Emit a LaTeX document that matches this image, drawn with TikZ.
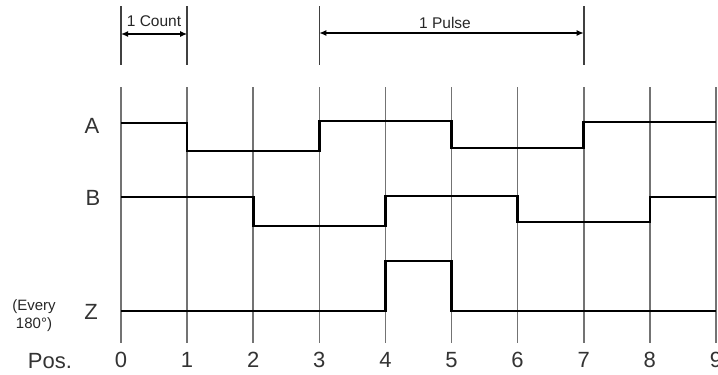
\documentclass[tikz,border=0pt]{standalone}
\usepackage{fontspec}
\setmainfont{Liberation Sans}
\usetikzlibrary{arrows.meta}
\begin{document}
\begin{tikzpicture}[x=1pt,y=-1pt,
  gridline/.style={line width=1.6pt, draw=black!55},
  sig/.style={line width=2.6pt, line join=miter, draw=black},
  tickline/.style={line width=1.6pt, draw=black!75},
  dimarrow/.style={line width=1.3pt, {Latex[length=7pt,width=6pt]}-{Latex[length=7pt,width=6pt]}},
  big/.style={font=\fontsize{22}{22}\selectfont, inner sep=0pt, text=black!80},
  small/.style={font=\fontsize{15.5}{17}\selectfont, inner sep=0pt, text=black!85}]
\useasboundingbox (0,0) rectangle (718,375);
% grid lines and position numbers
\foreach \i in {0,...,9} {
  \coordinate (t\i) at ({121+66.1*\i},87);
  \coordinate (b\i) at ({121+66.1*\i},343);
  \draw[gridline] (t\i) -- (b\i);
  \node[big] (n\i) at ({121+66.1*\i},360) {\i};
}
% top markers
\foreach \i in {0,1,3,7} {
  \coordinate (mt\i) at ({121+66.1*\i},6);
  \coordinate (mb\i) at ({121+66.1*\i},65);
  \draw[tickline] (mt\i) -- (mb\i);
}
\coordinate (c0) at (121,34);
\coordinate (c1) at (187.1,34);
\coordinate (p0) at (319.3,33);
\coordinate (p1) at (583.7,33);
\draw[dimarrow] (c0) -- (c1);
\draw[dimarrow] (p0) -- (p1);
\node[small] (count) at (154,21) {1 Count};
\node[small] (pulse) at (445,23) {1 Pulse};
% labels
\node[big] (lA) at (92,126) {A};
\node[big] (lB) at (93,198) {B};
\node[big] (lZ) at (91,312) {Z};
\node[small, align=center, font=\fontsize{15}{18}\selectfont] (every) at (34,316) {(Every\\180°)};
\node[big] (pos) at (50,361) {Pos.};
% signals
\draw[sig] (121,123) -- (187.1,123) -- (187.1,151) -- (319.3,151) -- (319.3,121)
  -- (451.5,121) -- (451.5,148) -- (583.7,148) -- (583.7,122) -- (716,122);
\draw[sig] (121,197) -- (253.2,197) -- (253.2,226) -- (385.4,226) -- (385.4,196)
  -- (517.6,196) -- (517.6,222) -- (649.8,222) -- (649.8,197) -- (716,197);
\draw[sig] (121,311) -- (385.4,311) -- (385.4,261) -- (451.5,261) -- (451.5,311) -- (716,311);
\end{tikzpicture}
\end{document}
